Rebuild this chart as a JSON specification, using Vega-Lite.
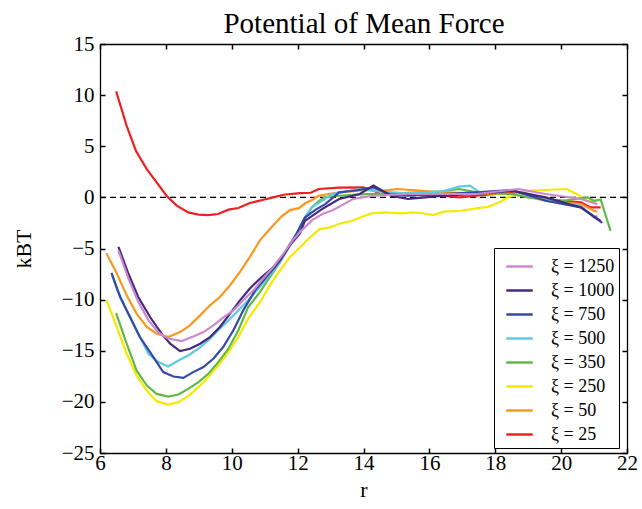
{
  "$schema": "https://vega.github.io/schema/vega-lite/v6.json",
  "width": 527,
  "height": 409,
  "autosize": {"type": "none"},
  "padding": {"left": 100, "top": 44, "right": 15, "bottom": 56},
  "background": "white",
  "config": {"font": "Liberation Serif", "view": {"stroke": null}},
  "datasets": {
    "pmf": [
      {"series": "ξ = 25", "r": 6.49, "v": 10.36}, {"series": "ξ = 25", "r": 6.81, "v": 7.0}, {"series": "ξ = 25", "r": 7.09, "v": 4.56}, {"series": "ξ = 25", "r": 7.42, "v": 2.77}, {"series": "ξ = 25", "r": 7.72, "v": 1.47}, {"series": "ξ = 25", "r": 8.02, "v": 0.16}, {"series": "ξ = 25", "r": 8.33, "v": -0.81}, {"series": "ξ = 25", "r": 8.68, "v": -1.47}, {"series": "ξ = 25", "r": 8.99, "v": -1.69}, {"series": "ξ = 25", "r": 9.29, "v": -1.73}, {"series": "ξ = 25", "r": 9.59, "v": -1.63}, {"series": "ξ = 25", "r": 9.9, "v": -1.2}, {"series": "ξ = 25", "r": 10.2, "v": -1.04}, {"series": "ξ = 25", "r": 10.55, "v": -0.55}, {"series": "ξ = 25", "r": 10.96, "v": -0.23}, {"series": "ξ = 25", "r": 11.26, "v": 0.0}, {"series": "ξ = 25", "r": 11.57, "v": 0.26}, {"series": "ξ = 25", "r": 12.07, "v": 0.42}, {"series": "ξ = 25", "r": 12.4, "v": 0.45}, {"series": "ξ = 25", "r": 12.64, "v": 0.82}, {"series": "ξ = 25", "r": 13.26, "v": 0.95}, {"series": "ξ = 25", "r": 13.99, "v": 0.98}, {"series": "ξ = 25", "r": 14.3, "v": 0.66}, {"series": "ξ = 25", "r": 14.5, "v": 0.33}, {"series": "ξ = 25", "r": 15.35, "v": 0.26}, {"series": "ξ = 25", "r": 16.4, "v": 0.16}, {"series": "ξ = 25", "r": 16.9, "v": 0.0}, {"series": "ξ = 25", "r": 17.44, "v": 0.16}, {"series": "ξ = 25", "r": 18.5, "v": 0.49}, {"series": "ξ = 25", "r": 19.0, "v": 0.33}, {"series": "ξ = 25", "r": 19.53, "v": -0.16}, {"series": "ξ = 25", "r": 20.05, "v": -0.33}, {"series": "ξ = 25", "r": 20.6, "v": -0.49}, {"series": "ξ = 25", "r": 20.9, "v": -0.98}, {"series": "ξ = 25", "r": 21.2, "v": -0.98},

      {"series": "ξ = 50", "r": 6.2, "v": -5.49}, {"series": "ξ = 50", "r": 6.51, "v": -7.45}, {"series": "ξ = 50", "r": 6.81, "v": -9.58}, {"series": "ξ = 50", "r": 7.11, "v": -11.37}, {"series": "ξ = 50", "r": 7.42, "v": -12.68}, {"series": "ξ = 50", "r": 7.72, "v": -13.33}, {"series": "ξ = 50", "r": 8.07, "v": -13.66}, {"series": "ξ = 50", "r": 8.43, "v": -13.17}, {"series": "ξ = 50", "r": 8.73, "v": -12.52}, {"series": "ξ = 50", "r": 9.04, "v": -11.54}, {"series": "ξ = 50", "r": 9.34, "v": -10.56}, {"series": "ξ = 50", "r": 9.64, "v": -9.74}, {"series": "ξ = 50", "r": 9.95, "v": -8.59}, {"series": "ξ = 50", "r": 10.25, "v": -7.29}, {"series": "ξ = 50", "r": 10.55, "v": -5.82}, {"series": "ξ = 50", "r": 10.86, "v": -4.18}, {"series": "ξ = 50", "r": 11.2, "v": -2.94}, {"series": "ξ = 50", "r": 11.5, "v": -1.9}, {"series": "ξ = 50", "r": 11.77, "v": -1.24}, {"series": "ξ = 50", "r": 12.04, "v": -1.05}, {"series": "ξ = 50", "r": 12.22, "v": -0.6}, {"series": "ξ = 50", "r": 12.46, "v": -0.2}, {"series": "ξ = 50", "r": 12.64, "v": 0.16}, {"series": "ξ = 50", "r": 13.26, "v": 0.49}, {"series": "ξ = 50", "r": 14.1, "v": 0.72}, {"series": "ξ = 50", "r": 14.6, "v": 0.66}, {"series": "ξ = 50", "r": 15.04, "v": 0.82}, {"series": "ξ = 50", "r": 15.67, "v": 0.66}, {"series": "ξ = 50", "r": 16.4, "v": 0.49}, {"series": "ξ = 50", "r": 17.44, "v": 0.39}, {"series": "ξ = 50", "r": 18.5, "v": 0.33}, {"series": "ξ = 50", "r": 19.53, "v": -0.33}, {"series": "ξ = 50", "r": 20.6, "v": -0.66}, {"series": "ξ = 50", "r": 21.0, "v": -1.31}, {"series": "ξ = 50", "r": 21.1, "v": -1.4},

      {"series": "ξ = 250", "r": 6.2, "v": -10.07}, {"series": "ξ = 250", "r": 6.51, "v": -12.68}, {"series": "ξ = 250", "r": 6.81, "v": -15.29}, {"series": "ξ = 250", "r": 7.11, "v": -17.42}, {"series": "ξ = 250", "r": 7.42, "v": -18.89}, {"series": "ξ = 250", "r": 7.72, "v": -19.93}, {"series": "ξ = 250", "r": 8.07, "v": -20.26}, {"series": "ξ = 250", "r": 8.38, "v": -20.03}, {"series": "ξ = 250", "r": 8.68, "v": -19.44}, {"series": "ξ = 250", "r": 8.99, "v": -18.56}, {"series": "ξ = 250", "r": 9.29, "v": -17.58}, {"series": "ξ = 250", "r": 9.59, "v": -16.44}, {"series": "ξ = 250", "r": 9.9, "v": -15.13}, {"series": "ξ = 250", "r": 10.2, "v": -13.66}, {"series": "ξ = 250", "r": 10.5, "v": -11.86}, {"series": "ξ = 250", "r": 10.86, "v": -10.23}, {"series": "ξ = 250", "r": 11.16, "v": -8.59}, {"series": "ξ = 250", "r": 11.47, "v": -7.12}, {"series": "ξ = 250", "r": 11.77, "v": -5.82}, {"series": "ξ = 250", "r": 12.07, "v": -4.9}, {"series": "ξ = 250", "r": 12.35, "v": -4.0}, {"series": "ξ = 250", "r": 12.66, "v": -3.1}, {"series": "ξ = 250", "r": 12.98, "v": -2.94}, {"series": "ξ = 250", "r": 13.29, "v": -2.55}, {"series": "ξ = 250", "r": 13.61, "v": -2.35}, {"series": "ξ = 250", "r": 13.92, "v": -1.95}, {"series": "ξ = 250", "r": 14.24, "v": -1.57}, {"series": "ξ = 250", "r": 14.66, "v": -1.47}, {"series": "ξ = 250", "r": 15.18, "v": -1.57}, {"series": "ξ = 250", "r": 15.5, "v": -1.47}, {"series": "ξ = 250", "r": 15.8, "v": -1.55}, {"series": "ξ = 250", "r": 16.12, "v": -1.73}, {"series": "ξ = 250", "r": 16.44, "v": -1.4}, {"series": "ξ = 250", "r": 16.96, "v": -1.31}, {"series": "ξ = 250", "r": 17.49, "v": -1.05}, {"series": "ξ = 250", "r": 17.8, "v": -0.92}, {"series": "ξ = 250", "r": 18.22, "v": -0.33}, {"series": "ξ = 250", "r": 18.38, "v": 0.0}, {"series": "ξ = 250", "r": 19.0, "v": 0.66}, {"series": "ξ = 250", "r": 19.53, "v": 0.72}, {"series": "ξ = 250", "r": 20.16, "v": 0.82}, {"series": "ξ = 250", "r": 20.47, "v": 0.33}, {"series": "ξ = 250", "r": 20.79, "v": -0.33}, {"series": "ξ = 250", "r": 21.1, "v": -0.33},

      {"series": "ξ = 350", "r": 6.49, "v": -11.31}, {"series": "ξ = 350", "r": 6.81, "v": -14.31}, {"series": "ξ = 350", "r": 7.11, "v": -16.93}, {"series": "ξ = 350", "r": 7.42, "v": -18.4}, {"series": "ξ = 350", "r": 7.72, "v": -19.22}, {"series": "ξ = 350", "r": 8.07, "v": -19.48}, {"series": "ξ = 350", "r": 8.38, "v": -19.28}, {"series": "ξ = 350", "r": 8.68, "v": -18.73}, {"series": "ξ = 350", "r": 8.99, "v": -18.07}, {"series": "ξ = 350", "r": 9.29, "v": -17.25}, {"series": "ξ = 350", "r": 9.59, "v": -16.11}, {"series": "ξ = 350", "r": 9.9, "v": -14.8}, {"series": "ξ = 350", "r": 10.2, "v": -13.0}, {"series": "ξ = 350", "r": 10.5, "v": -10.72}, {"series": "ξ = 350", "r": 10.86, "v": -9.25}, {"series": "ξ = 350", "r": 11.16, "v": -7.78}, {"series": "ξ = 350", "r": 11.47, "v": -6.31}, {"series": "ξ = 350", "r": 11.77, "v": -4.51}, {"series": "ξ = 350", "r": 12.07, "v": -3.2}, {"series": "ξ = 350", "r": 12.25, "v": -1.96}, {"series": "ξ = 350", "r": 12.43, "v": -0.98}, {"series": "ξ = 350", "r": 12.66, "v": -0.33}, {"series": "ξ = 350", "r": 12.84, "v": 0.0}, {"series": "ξ = 350", "r": 13.26, "v": 0.16}, {"series": "ξ = 350", "r": 13.9, "v": 0.3}, {"series": "ξ = 350", "r": 14.5, "v": 0.35}, {"series": "ξ = 350", "r": 15.35, "v": 0.45}, {"series": "ξ = 350", "r": 15.9, "v": 0.49}, {"series": "ξ = 350", "r": 16.4, "v": 0.6}, {"series": "ξ = 350", "r": 16.9, "v": 0.82}, {"series": "ξ = 350", "r": 17.44, "v": 0.49}, {"series": "ξ = 350", "r": 18.5, "v": 0.33}, {"series": "ξ = 350", "r": 19.0, "v": 0.0}, {"series": "ξ = 350", "r": 19.53, "v": -0.16}, {"series": "ξ = 350", "r": 20.05, "v": -0.33}, {"series": "ξ = 350", "r": 20.8, "v": 0.0}, {"series": "ξ = 350", "r": 21.0, "v": -0.33}, {"series": "ξ = 350", "r": 21.2, "v": -0.2}, {"series": "ξ = 350", "r": 21.5, "v": -3.28},

      {"series": "ξ = 500", "r": 6.35, "v": -7.45}, {"series": "ξ = 500", "r": 6.51, "v": -8.92}, {"series": "ξ = 500", "r": 6.81, "v": -11.05}, {"series": "ξ = 500", "r": 7.11, "v": -13.0}, {"series": "ξ = 500", "r": 7.47, "v": -15.29}, {"series": "ξ = 500", "r": 7.77, "v": -16.11}, {"series": "ξ = 500", "r": 8.07, "v": -16.54}, {"series": "ξ = 500", "r": 8.38, "v": -15.95}, {"series": "ξ = 500", "r": 8.68, "v": -15.46}, {"series": "ξ = 500", "r": 8.99, "v": -14.8}, {"series": "ξ = 500", "r": 9.29, "v": -13.99}, {"series": "ξ = 500", "r": 9.59, "v": -13.0}, {"series": "ξ = 500", "r": 9.9, "v": -12.03}, {"series": "ξ = 500", "r": 10.2, "v": -11.05}, {"series": "ξ = 500", "r": 10.5, "v": -10.07}, {"series": "ξ = 500", "r": 10.81, "v": -8.92}, {"series": "ξ = 500", "r": 11.11, "v": -7.78}, {"series": "ξ = 500", "r": 11.47, "v": -6.31}, {"series": "ξ = 500", "r": 11.77, "v": -4.67}, {"series": "ξ = 500", "r": 12.02, "v": -3.2}, {"series": "ξ = 500", "r": 12.25, "v": -1.8}, {"series": "ξ = 500", "r": 12.43, "v": -0.98}, {"series": "ξ = 500", "r": 12.66, "v": -0.5}, {"series": "ξ = 500", "r": 13.05, "v": 0.33}, {"series": "ξ = 500", "r": 13.89, "v": 0.82}, {"series": "ξ = 500", "r": 14.4, "v": 0.6}, {"series": "ξ = 500", "r": 15.35, "v": 0.39}, {"series": "ξ = 500", "r": 16.4, "v": 0.59}, {"series": "ξ = 500", "r": 16.9, "v": 1.05}, {"series": "ξ = 500", "r": 17.23, "v": 1.15}, {"series": "ξ = 500", "r": 17.55, "v": 0.43}, {"series": "ξ = 500", "r": 18.5, "v": 0.66}, {"series": "ξ = 500", "r": 19.53, "v": -0.33}, {"series": "ξ = 500", "r": 20.6, "v": -0.82}, {"series": "ξ = 500", "r": 21.0, "v": -1.97}, {"series": "ξ = 500", "r": 21.1, "v": -1.8},

      {"series": "ξ = 750", "r": 6.35, "v": -7.39}, {"series": "ξ = 750", "r": 6.61, "v": -9.74}, {"series": "ξ = 750", "r": 6.91, "v": -11.7}, {"series": "ξ = 750", "r": 7.21, "v": -13.66}, {"series": "ξ = 750", "r": 7.52, "v": -15.13}, {"series": "ξ = 750", "r": 7.92, "v": -17.09}, {"series": "ξ = 750", "r": 8.23, "v": -17.52}, {"series": "ξ = 750", "r": 8.53, "v": -17.65}, {"series": "ξ = 750", "r": 8.83, "v": -17.09}, {"series": "ξ = 750", "r": 9.14, "v": -16.6}, {"series": "ξ = 750", "r": 9.44, "v": -15.78}, {"series": "ξ = 750", "r": 9.74, "v": -14.64}, {"series": "ξ = 750", "r": 10.05, "v": -13.0}, {"series": "ξ = 750", "r": 10.35, "v": -11.05}, {"series": "ξ = 750", "r": 10.71, "v": -9.09}, {"series": "ξ = 750", "r": 11.01, "v": -7.94}, {"series": "ξ = 750", "r": 11.36, "v": -6.63}, {"series": "ξ = 750", "r": 11.67, "v": -5.16}, {"series": "ξ = 750", "r": 11.97, "v": -3.53}, {"series": "ξ = 750", "r": 12.22, "v": -1.97}, {"series": "ξ = 750", "r": 12.55, "v": -1.2}, {"series": "ξ = 750", "r": 12.84, "v": -0.66}, {"series": "ξ = 750", "r": 13.26, "v": 0.49}, {"series": "ξ = 750", "r": 13.8, "v": 0.7}, {"series": "ξ = 750", "r": 14.3, "v": 0.98}, {"series": "ξ = 750", "r": 14.8, "v": 0.3}, {"series": "ξ = 750", "r": 15.35, "v": 0.16}, {"series": "ξ = 750", "r": 16.4, "v": 0.33}, {"series": "ξ = 750", "r": 17.44, "v": 0.49}, {"series": "ξ = 750", "r": 18.5, "v": 0.72}, {"series": "ξ = 750", "r": 19.53, "v": -0.33}, {"series": "ξ = 750", "r": 20.6, "v": -0.98}, {"series": "ξ = 750", "r": 21.25, "v": -2.5},

      {"series": "ξ = 1000", "r": 6.56, "v": -4.84}, {"series": "ξ = 1000", "r": 6.86, "v": -7.45}, {"series": "ξ = 1000", "r": 7.16, "v": -9.74}, {"series": "ξ = 1000", "r": 7.52, "v": -11.7}, {"series": "ξ = 1000", "r": 7.87, "v": -13.33}, {"series": "ξ = 1000", "r": 8.13, "v": -14.31}, {"series": "ξ = 1000", "r": 8.43, "v": -15.03}, {"series": "ξ = 1000", "r": 8.73, "v": -14.8}, {"series": "ξ = 1000", "r": 9.04, "v": -14.31}, {"series": "ξ = 1000", "r": 9.34, "v": -13.66}, {"series": "ξ = 1000", "r": 9.64, "v": -12.68}, {"series": "ξ = 1000", "r": 9.95, "v": -11.37}, {"series": "ξ = 1000", "r": 10.25, "v": -10.07}, {"series": "ξ = 1000", "r": 10.55, "v": -8.92}, {"series": "ξ = 1000", "r": 10.86, "v": -7.94}, {"series": "ξ = 1000", "r": 11.16, "v": -7.12}, {"series": "ξ = 1000", "r": 11.47, "v": -6.14}, {"series": "ξ = 1000", "r": 11.77, "v": -4.67}, {"series": "ξ = 1000", "r": 12.07, "v": -3.53}, {"series": "ξ = 1000", "r": 12.22, "v": -2.3}, {"series": "ξ = 1000", "r": 12.74, "v": -1.15}, {"series": "ξ = 1000", "r": 13.26, "v": -0.16}, {"series": "ξ = 1000", "r": 13.89, "v": 0.33}, {"series": "ξ = 1000", "r": 14.3, "v": 1.15}, {"series": "ξ = 1000", "r": 14.83, "v": 0.16}, {"series": "ξ = 1000", "r": 15.35, "v": -0.16}, {"series": "ξ = 1000", "r": 15.87, "v": 0.0}, {"series": "ξ = 1000", "r": 16.4, "v": 0.16}, {"series": "ξ = 1000", "r": 17.44, "v": 0.33}, {"series": "ξ = 1000", "r": 18.5, "v": 0.66}, {"series": "ξ = 1000", "r": 19.53, "v": 0.0}, {"series": "ξ = 1000", "r": 20.6, "v": -0.98}, {"series": "ξ = 1000", "r": 21.2, "v": -2.3},

      {"series": "ξ = 1250", "r": 6.56, "v": -5.2}, {"series": "ξ = 1250", "r": 6.86, "v": -7.9}, {"series": "ξ = 1250", "r": 7.16, "v": -10.2}, {"series": "ξ = 1250", "r": 7.47, "v": -12.0}, {"series": "ξ = 1250", "r": 7.77, "v": -13.2}, {"series": "ξ = 1250", "r": 8.07, "v": -13.8}, {"series": "ξ = 1250", "r": 8.48, "v": -14.05}, {"series": "ξ = 1250", "r": 8.83, "v": -13.6}, {"series": "ξ = 1250", "r": 9.14, "v": -13.17}, {"series": "ξ = 1250", "r": 9.44, "v": -12.52}, {"series": "ξ = 1250", "r": 9.74, "v": -11.76}, {"series": "ξ = 1250", "r": 10.05, "v": -11.05}, {"series": "ξ = 1250", "r": 10.35, "v": -10.07}, {"series": "ξ = 1250", "r": 10.66, "v": -9.09}, {"series": "ξ = 1250", "r": 10.96, "v": -7.9}, {"series": "ξ = 1250", "r": 11.26, "v": -6.8}, {"series": "ξ = 1250", "r": 11.57, "v": -5.5}, {"series": "ξ = 1250", "r": 11.85, "v": -4.2}, {"series": "ξ = 1250", "r": 12.1, "v": -3.3}, {"series": "ξ = 1250", "r": 12.45, "v": -2.2}, {"series": "ξ = 1250", "r": 12.77, "v": -1.6}, {"series": "ξ = 1250", "r": 13.08, "v": -1.24}, {"series": "ξ = 1250", "r": 13.5, "v": -0.49}, {"series": "ξ = 1250", "r": 13.68, "v": -0.16}, {"series": "ξ = 1250", "r": 14.3, "v": 0.16}, {"series": "ξ = 1250", "r": 15.35, "v": 0.33}, {"series": "ξ = 1250", "r": 16.4, "v": 0.33}, {"series": "ξ = 1250", "r": 17.44, "v": 0.33}, {"series": "ξ = 1250", "r": 18.7, "v": 0.82}, {"series": "ξ = 1250", "r": 19.53, "v": 0.33}, {"series": "ξ = 1250", "r": 20.6, "v": -0.16}, {"series": "ξ = 1250", "r": 21.1, "v": -0.66}
    ],
    "reference": [{"level": 0}]
  },
  "layer": [
    {
      "data": {"name": "reference"},
      "mark": {"type": "rule", "color": "black", "strokeWidth": 1.3, "strokeDash": [6, 4]},
      "encoding": {
        "x": {"datum": 6, "type": "quantitative", "scale": {"domain": [6, 22], "nice": false, "zero": false},
              "axis": {"orient": "top", "labels": false, "title": "Potential of Mean Force", "titleFont": "Liberation Serif", "titleFontSize": 29, "titleFontWeight": "normal", "titleColor": "black", "titleBaseline": "alphabetic", "titlePadding": 11,
                       "values": [6, 8, 10, 12, 14, 16, 18, 20, 22], "grid": false, "domainColor": "black", "domainWidth": 1.3, "tickColor": "black", "tickWidth": 1.5, "tickSize": -5}},
        "x2": {"datum": 22},
        "y": {"field": "level", "type": "quantitative", "scale": {"domain": [-25, 15], "nice": false, "zero": false},
              "axis": {"orient": "right", "labels": false, "title": null, "values": [-25, -20, -15, -10, -5, 0, 5, 10, 15], "grid": false, "domainColor": "black", "domainWidth": 1.3, "tickColor": "black", "tickWidth": 1.5, "tickSize": -5}}
      }
    },
    {
      "data": {"name": "pmf"},
      "mark": {"type": "line", "strokeWidth": 2.2, "clip": true},
      "encoding": {
        "x": {"field": "r", "type": "quantitative",
              "axis": {"orient": "bottom", "title": "r", "values": [6, 8, 10, 12, 14, 16, 18, 20, 22], "grid": false, "domainColor": "black", "domainWidth": 1.3, "tickColor": "black", "tickWidth": 1.5, "tickSize": -5, "labelPadding": 4, "labelFlush": false, "labelOverlap": false, "labelFont": "Liberation Serif", "labelFontSize": 21, "labelColor": "black", "titleFont": "Liberation Serif", "titleFontSize": 22, "titleFontWeight": "normal", "titleColor": "black", "titlePadding": 6}},
        "y": {"field": "v", "type": "quantitative",
              "axis": {"orient": "left", "title": "kBT", "values": [-25, -20, -15, -10, -5, 0, 5, 10, 15], "grid": false, "domainColor": "black", "domainWidth": 1.3, "tickColor": "black", "tickWidth": 1.5, "tickSize": -5, "labelPadding": 11, "labelFlush": false, "labelOverlap": false, "labelFont": "Liberation Serif", "labelFontSize": 21, "labelColor": "black", "titleFont": "Liberation Serif", "titleFontSize": 22, "titleFontWeight": "normal", "titleColor": "black", "titlePadding": 26}},
        "color": {"field": "series", "type": "nominal",
                  "scale": {"domain": ["ξ = 1250", "ξ = 1000", "ξ = 750", "ξ = 500", "ξ = 350", "ξ = 250", "ξ = 50", "ξ = 25"],
                            "range": ["#cc88cc", "#46297e", "#344aa6", "#62c9e2", "#60b946", "#f5e900", "#f8981d", "#ed2024"]},
                  "legend": {"orient": "none", "legendX": 394, "legendY": 204, "title": null, "symbolType": "stroke", "symbolStrokeWidth": 2.5, "symbolSize": 700, "symbolOffset": 7, "labelFont": "Liberation Serif", "labelFontSize": 18, "labelColor": "black", "strokeColor": "black", "fillColor": "white", "padding": 4, "rowPadding": -3, "labelOffset": 17}}
      }
    }
  ],
  "resolve": {"axis": {"x": "independent", "y": "independent"}}
}
